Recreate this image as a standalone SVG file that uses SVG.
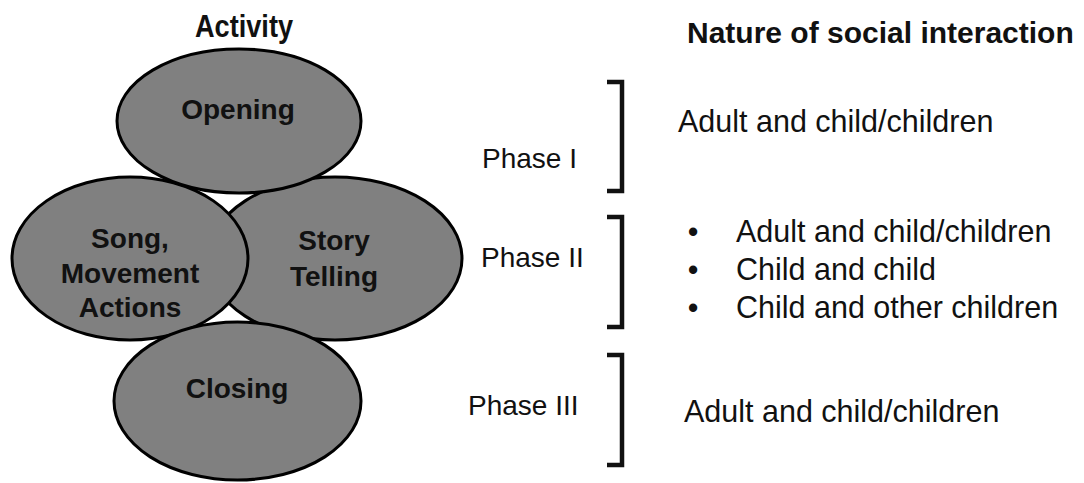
<svg xmlns="http://www.w3.org/2000/svg" width="1084" height="483" viewBox="0 0 1084 483">
  <style>
    .el { fill: #808080; stroke: #000; stroke-width: 3; }
    .lbl { font-family: "Liberation Sans", Arial, sans-serif; font-weight: bold; font-size: 28px; fill: #111; text-anchor: middle; }
    .hdr { font-family: "Liberation Sans", Arial, sans-serif; font-weight: bold; fill: #111; }
    .txt { font-family: "Liberation Sans", Arial, sans-serif; fill: #111; }
    .br { fill: none; stroke: #111; stroke-width: 4.5; stroke-linejoin: miter; }
  </style>
  <rect width="1084" height="483" fill="#fff"/>
  <text class="hdr" x="195" y="37" font-size="31" textLength="98" lengthAdjust="spacingAndGlyphs">Activity</text>
  <text class="hdr" x="687" y="43" font-size="30">Nature of social interaction</text>

  <g id="story">
    <ellipse class="el" cx="335" cy="258.5" rx="127" ry="81.5"/>
    <text class="lbl" x="334" y="250">Story</text>
    <text class="lbl" x="334" y="286">Telling</text>
  </g>
  <g id="song">
    <ellipse class="el" cx="130" cy="258.5" rx="118" ry="81.5"/>
    <text class="lbl" x="130" y="248">Song,</text>
    <text class="lbl" x="130" y="283">Movement</text>
    <text class="lbl" x="130" y="317">Actions</text>
  </g>
  <g id="opening">
    <ellipse class="el" cx="239" cy="121" rx="122" ry="72"/>
    <text class="lbl" x="238" y="119" font-size="29.5">Opening</text>
  </g>
  <g id="closing">
    <ellipse class="el" cx="237.5" cy="401" rx="123.5" ry="79"/>
    <text class="lbl" x="237" y="398" font-size="30">Closing</text>
  </g>

  <g id="connectors">
    <polyline class="br" points="607,82 622,82 622,191 607,191"/>
    <polyline class="br" points="607,217 622,217 622,327 607,327"/>
    <polyline class="br" points="607,355 622,355 622,465 607,465"/>
  </g>

  <g id="phase1">
    <text class="txt" x="482" y="168" font-size="28">Phase I</text>
  </g>
  <g id="phase2">
    <text class="txt" x="481" y="267" font-size="28">Phase II</text>
  </g>
  <g id="phase3">
    <text class="txt" x="468" y="415" font-size="28">Phase III</text>
  </g>

  <g id="interaction1">
    <text class="txt" x="678" y="132" font-size="30.5">Adult and child/children</text>
  </g>
  <g id="interaction2">
    <text class="txt" x="693" y="242" font-size="30.5" text-anchor="middle">•</text>
    <text class="txt" x="736" y="242" font-size="30.5">Adult and child/children</text>
    <text class="txt" x="693" y="280" font-size="30.5" text-anchor="middle">•</text>
    <text class="txt" x="736" y="280" font-size="30.5">Child and child</text>
    <text class="txt" x="693" y="318" font-size="30.5" text-anchor="middle">•</text>
    <text class="txt" x="736" y="318" font-size="30.5">Child and other children</text>
  </g>
  <g id="interaction3">
    <text class="txt" x="684" y="422" font-size="30.5">Adult and child/children</text>
  </g>
</svg>
